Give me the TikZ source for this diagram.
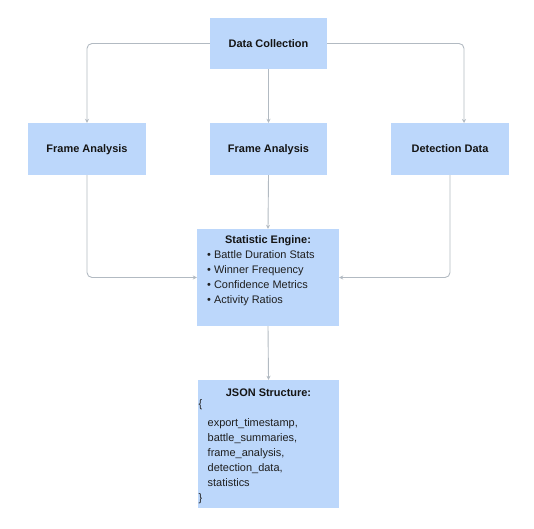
\documentclass[tikz,border=0pt]{standalone}
\usepackage{fontspec}
\setmainfont{Liberation Sans}
\usetikzlibrary{arrows.meta}
\definecolor{boxfill}{RGB}{188,215,251}
\definecolor{linegray}{RGB}{178,186,194}
\tikzset{
  box/.style={rectangle, fill=boxfill, draw=none, inner sep=0pt},
  conn/.style={draw=linegray, line width=0.9bp, rounded corners=5bp, -{Stealth[length=4bp,width=4bp]}},
  ttl/.style={font=\fontsize{11}{13}\selectfont\bfseries, text=black!92, inner sep=0pt, anchor=base},
  txt/.style={font=\fontsize{11}{13}\selectfont, text=black!88, inner sep=0pt, anchor=base west}
}
\begin{document}
\begin{tikzpicture}[x=1bp,y=-1bp]
\useasboundingbox (0,0) rectangle (534,529);
% boxes
\node[box, minimum width=117bp, minimum height=51bp] (dc) at (268.5,43.5) {};
\node[box, minimum width=118bp, minimum height=52bp] (fa1) at (87,149) {};
\node[box, minimum width=117bp, minimum height=52bp] (fa2) at (268.5,149) {};
\node[box, minimum width=118bp, minimum height=52bp] (dd) at (450,149) {};
\node[box, minimum width=142bp, minimum height=97bp] (se) at (268,277.5) {};
\node[box, minimum width=141bp, minimum height=128bp] (js) at (268.5,444) {};
\coordinate (ddin) at (464,123);
% titles
\node[ttl] (dct) at (268.5,47.5) {Data Collection};
\node[ttl] (fa1t) at (87,153) {Frame Analysis};
\node[ttl] (fa2t) at (268.5,153) {Frame Analysis};
\node[ttl] (ddt) at (450,153) {Detection Data};
\node[ttl] (set) at (268,243) {Statistic Engine:};
\node[txt] (s1) at (207,258) {• Battle Duration Stats};
\node[txt] (s2) at (207,273.3) {• Winner Frequency};
\node[txt] (s3) at (207,288.6) {• Confidence Metrics};
\node[txt] (s4) at (207,303.9) {• Activity Ratios};
\node[ttl] (jst) at (268.5,396) {JSON Structure:};
\node[txt] (j0) at (198.5,407) {\{};
\node[txt] (j1) at (207.5,426) {export\_timestamp,};
\node[txt] (j2) at (207.5,441) {battle\_summaries,};
\node[txt] (j3) at (207.5,456) {frame\_analysis,};
\node[txt] (j4) at (207.5,471) {detection\_data,};
\node[txt] (j5) at (207.5,486) {statistics};
\node[txt] (j6) at (198.5,501) {\}};
% connectors
\draw[conn] (dc.west) -| (fa1.north);
\draw[conn] (dc.south) -- (fa2.north);
\draw[conn] (dc.east) -| (ddin);
\draw[conn] (fa1.south) |- (se.west);
\draw[conn] (fa2.south) -- (se.north);
\draw[conn] (dd.south) |- (se.east);
\draw[conn] (se.south) -- (js.north);
\end{tikzpicture}
\end{document}
